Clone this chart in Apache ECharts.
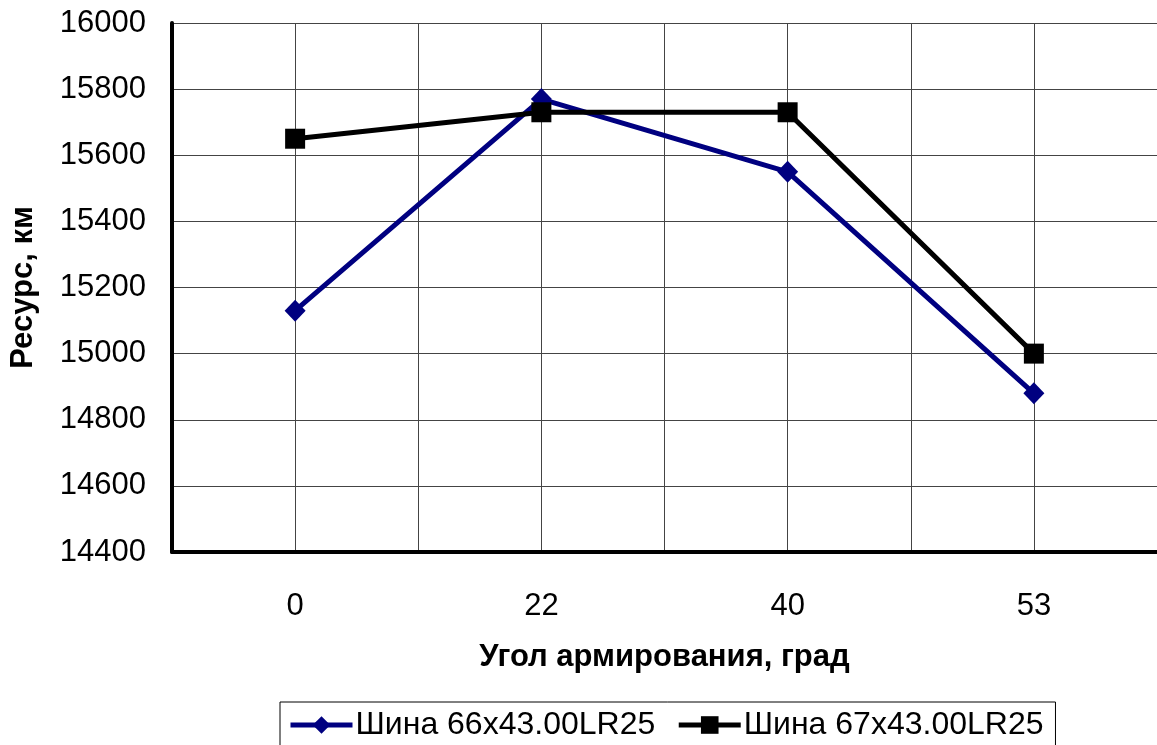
<!DOCTYPE html>
<html>
<head>
<meta charset="utf-8">
<script src="https://cdn.jsdelivr.net/npm/echarts@6/dist/echarts.min.js"></script>
<style>
html,body{margin:0;padding:0;background:#fff;}
#chart{width:1157px;height:745px;}
</style>
</head>
<body>
<div id="chart"></div>
<script>
const categories = ['0', '22', '40', '53'];
const tire66 = [15130, 15770, 15550, 14880];
const tire67 = [15650, 15730, 15730, 15000];
const seriesNames = ['Шина 66x43.00LR25', 'Шина 67x43.00LR25'];
const yMin = 14400, yMax = 16000, yStep = 200;

const FONT = 'Liberation Sans, Arial, sans-serif';
const chart = echarts.init(document.getElementById('chart'), null, {renderer: 'canvas'});
chart.setOption({
  animation: false,
  backgroundColor: '#ffffff',
  grid: {left: 172, top: 23, width: 988, height: 529, containLabel: false},
  legend: {
    left: 280, top: 702,
    padding: [7, 12, 10, 8],
    borderColor: '#000', borderWidth: 1, borderRadius: 0,
    itemWidth: 62, itemHeight: 22, itemGap: 21,
    lineStyle: {width: 5},
    textStyle: {fontFamily: FONT, fontSize: 32, color: '#000', padding: [0, 0, 0, -2]},
    data: seriesNames
  },
  xAxis: [{
    type: 'category',
    data: categories,
    boundaryGap: true,
    name: 'Угол армирования, град',
    nameLocation: 'middle',
    nameGap: 90,
    nameTextStyle: {fontFamily: FONT, fontSize: 31, fontWeight: 'bold', color: '#000'},
    axisLine: {lineStyle: {color: '#000', width: 4}},
    axisTick: {show: false},
    axisLabel: {fontFamily: FONT, fontSize: 31, color: '#000', margin: 39},
    splitLine: {show: false}
  }, {
    type: 'value',
    min: 0, max: 8, interval: 1,
    position: 'bottom',
    axisLine: {show: false},
    axisTick: {show: false},
    axisLabel: {show: false},
    splitLine: {show: true, lineStyle: {color: '#444', width: 1}}
  }],
  yAxis: {
    type: 'value',
    min: yMin, max: yMax, interval: yStep,
    name: 'Ресурс, км',
    nameLocation: 'middle',
    nameGap: 133,
    nameTextStyle: {fontFamily: FONT, fontSize: 31, fontWeight: 'bold', color: '#000'},
    axisLine: {show: true, lineStyle: {color: '#000', width: 4}},
    axisTick: {show: false},
    axisLabel: {fontFamily: FONT, fontSize: 31, color: '#000', margin: 26, formatter: v => String(v)},
    splitLine: {show: true, lineStyle: {color: '#444', width: 1}}
  },
  series: [{
    name: seriesNames[0],
    type: 'line',
    xAxisIndex: 0,
    data: tire66,
    symbol: 'diamond',
    symbolSize: [21, 22],
    lineStyle: {color: '#000080', width: 5},
    itemStyle: {color: '#000080'},
    z: 3
  }, {
    name: seriesNames[1],
    type: 'line',
    xAxisIndex: 0,
    data: tire67,
    symbol: 'rect',
    symbolSize: 20,
    lineStyle: {color: '#000', width: 5},
    itemStyle: {color: '#000'},
    z: 4
  }]
});
</script>
</body>
</html>
